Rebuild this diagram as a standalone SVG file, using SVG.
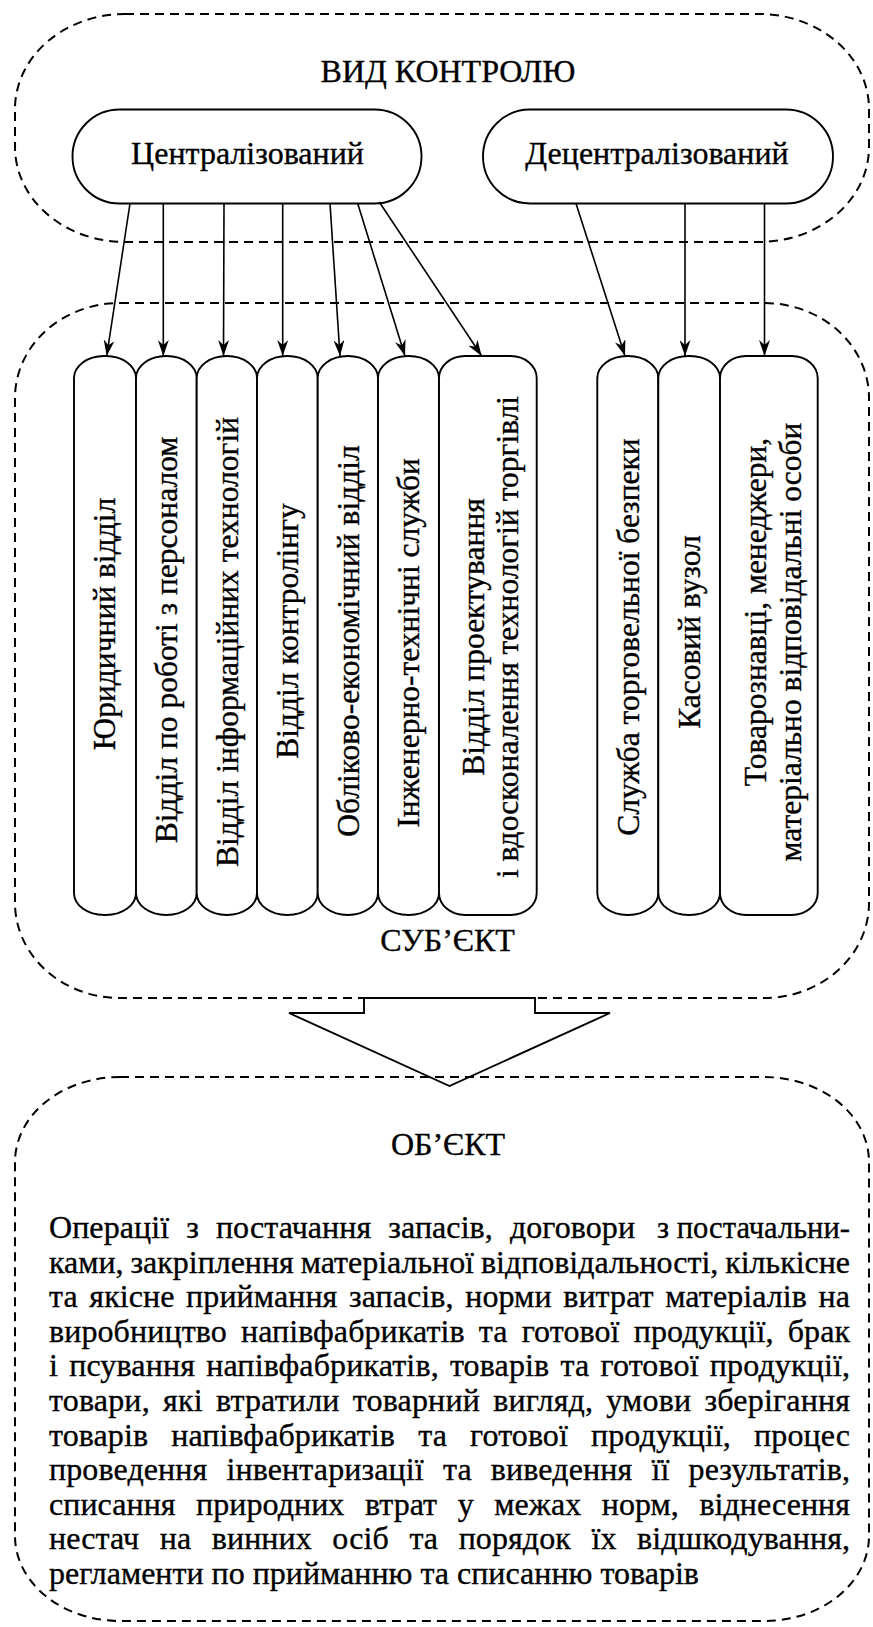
<svg xmlns="http://www.w3.org/2000/svg" width="873" height="1627" viewBox="0 0 873 1627">
<defs>
<style>
.dash{fill:none;stroke:#000;stroke-width:2;stroke-dasharray:9 6}
.box{fill:#fff;stroke:#000;stroke-width:1.9}
text{font-family:"Liberation Serif","Times New Roman","DejaVu Serif",serif;fill:#000;stroke:#000;stroke-width:0.35}
.lbl{font-size:32px}
.vt{font-size:31.5px;text-anchor:middle}
.body{font-size:32px}
.conn line{stroke:#000;stroke-width:1.6;marker-end:url(#arr)}
</style>
<marker id="arr" markerUnits="userSpaceOnUse" viewBox="0 0 16 11" refX="16" refY="5.5" markerWidth="16" markerHeight="11" orient="auto">
<path d="M0,0 L16,5.5 L0,11 L5,5.5 Z" fill="#000"/>
</marker>
</defs>
<rect width="873" height="1627" fill="#fff"/>

<g id="vid-kontrolyu">
<rect class="dash" x="15" y="14" width="854" height="228" rx="110" ry="95"/>
<text class="lbl" x="448" y="82" text-anchor="middle">ВИД КОНТРОЛЮ</text>
</g>

<g id="subiekt">
<rect class="dash" x="15" y="303" width="854" height="695" rx="105" ry="95"/>
<text class="lbl" x="447.5" y="951" text-anchor="middle">СУБ’ЄКТ</text>
</g>

<g id="tsentr">
<rect class="box" x="72.5" y="109.5" width="349" height="94" rx="47" ry="47"/>
<text class="lbl" x="247.5" y="164" text-anchor="middle">Централізований</text>
</g>
<g id="detsentr">
<rect class="box" x="483" y="109.5" width="350" height="94" rx="47" ry="47"/>
<text class="lbl" x="657" y="164" text-anchor="middle">Децентралізований</text>
</g>

<g id="n1"><rect class="box" x="74" y="356" width="62" height="559" rx="30" ry="22"/>
<text class="vt" transform="translate(115,624) rotate(-90)">Юридичний відділ</text></g>
<g id="n2"><rect class="box" x="136" y="356" width="60.7" height="559" rx="30" ry="22"/>
<text class="vt" transform="translate(176.5,640) rotate(-90)">Відділ по роботі з персоналом</text></g>
<g id="n3"><rect class="box" x="196.7" y="356" width="60.3" height="559" rx="30" ry="22"/>
<text class="vt" transform="translate(237.5,642) rotate(-90)">Відділ інформаційних технологій</text></g>
<g id="n4"><rect class="box" x="257" y="356" width="60.7" height="559" rx="30" ry="22"/>
<text class="vt" transform="translate(297.5,631) rotate(-90)">Відділ контролінгу</text></g>
<g id="n5"><rect class="box" x="317.7" y="356" width="60.3" height="559" rx="30" ry="22"/>
<text class="vt" transform="translate(358.5,641) rotate(-90)">Обліково-економічний відділ</text></g>
<g id="n6"><rect class="box" x="378" y="356" width="61" height="559" rx="30" ry="22"/>
<text class="vt" transform="translate(419,643) rotate(-90)">Інженерно-технічні служби</text></g>
<g id="n7"><rect class="box" x="439" y="356" width="97.7" height="559" rx="26" ry="22"/>
<text class="vt" transform="translate(483.5,637) rotate(-90)">Відділ проектування</text>
<text class="vt" transform="translate(517.5,637) rotate(-90)">і вдосконалення технологій торгівлі</text></g>
<g id="n8"><rect class="box" x="597.3" y="356" width="61" height="559" rx="30" ry="22"/>
<text class="vt" transform="translate(638.5,637) rotate(-90)">Служба торговельної безпеки</text></g>
<g id="n9"><rect class="box" x="658.3" y="356" width="61.7" height="559" rx="30" ry="22"/>
<text class="vt" transform="translate(699.5,632) rotate(-90)">Касовий вузол</text></g>
<g id="n10"><rect class="box" x="720" y="356" width="97.7" height="559" rx="26" ry="22"/>
<text class="vt" transform="translate(766,612) rotate(-90)">Товарознавці, менеджери,</text>
<text class="vt" transform="translate(801,642) rotate(-90)">матеріально відповідальні особи</text></g>

<g id="connectors" class="conn">
<line x1="130" y1="203.5" x2="106.7" y2="356"/>
<line x1="163.3" y1="203.5" x2="163.3" y2="356"/>
<line x1="224" y1="203.5" x2="223.5" y2="356"/>
<line x1="282.7" y1="203.5" x2="282.7" y2="356"/>
<line x1="330" y1="203.5" x2="340" y2="356"/>
<line x1="357.7" y1="203.5" x2="405" y2="356"/>
<line x1="379.3" y1="202" x2="481.7" y2="356"/>
<line x1="576" y1="203.5" x2="625" y2="356"/>
<line x1="685" y1="203.5" x2="685" y2="356"/>
<line x1="764.5" y1="203.5" x2="764.5" y2="356"/>
</g>

<g id="big-arrow">
<polygon points="364,998 535,998 535,1013 610,1013 449.5,1086 289,1013 364,1013" fill="#fff" stroke="#000" stroke-width="1.9" stroke-linejoin="miter"/>
</g>

<g id="obiekt">
<rect class="dash" x="15" y="1077" width="854" height="544" rx="105" ry="85"/>
<text class="lbl" x="448" y="1155" text-anchor="middle">ОБ’ЄКТ</text>
<text class="body" x="49" y="1238" textLength="586" lengthAdjust="spacing" word-spacing="9">Операції з постачання запасів, договори</text>
<text class="body" x="850" y="1238" text-anchor="end" textLength="193" lengthAdjust="spacingAndGlyphs">з постачальни-</text>
<text class="body" x="49" y="1272.6" textLength="801" lengthAdjust="spacing" word-spacing="-1">ками, закріплення матеріальної відповідальності, кількісне</text>
<text class="body" x="49" y="1307.2" textLength="801" lengthAdjust="spacing" word-spacing="3.5">та якісне приймання запасів, норми витрат матеріалів на</text>
<text class="body" x="49" y="1341.8" textLength="801" lengthAdjust="spacing" word-spacing="6">виробництво напівфабрикатів та готової продукції, брак</text>
<text class="body" x="49" y="1376.4" textLength="801" lengthAdjust="spacing" word-spacing="3">і псування напівфабрикатів, товарів та готової продукції,</text>
<text class="body" x="49" y="1411" textLength="801" lengthAdjust="spacing" word-spacing="5">товари, які втратили товарний вигляд, умови зберігання</text>
<text class="body" x="49" y="1445.6" textLength="801" lengthAdjust="spacing" word-spacing="15">товарів напівфабрикатів та готової продукції, процес</text>
<text class="body" x="49" y="1480.2" textLength="801" lengthAdjust="spacing" word-spacing="11">проведення інвентаризації та виведення її результатів,</text>
<text class="body" x="49" y="1514.8" textLength="801" lengthAdjust="spacing" word-spacing="12.5">списання природних втрат у межах норм, віднесення</text>
<text class="body" x="49" y="1549.4" textLength="801" lengthAdjust="spacing" word-spacing="12.5">нестач на винних осіб та порядок їх відшкодування,</text>
<text class="body" x="49" y="1584">регламенти по прийманню та списанню товарів</text>
</g>
</svg>
